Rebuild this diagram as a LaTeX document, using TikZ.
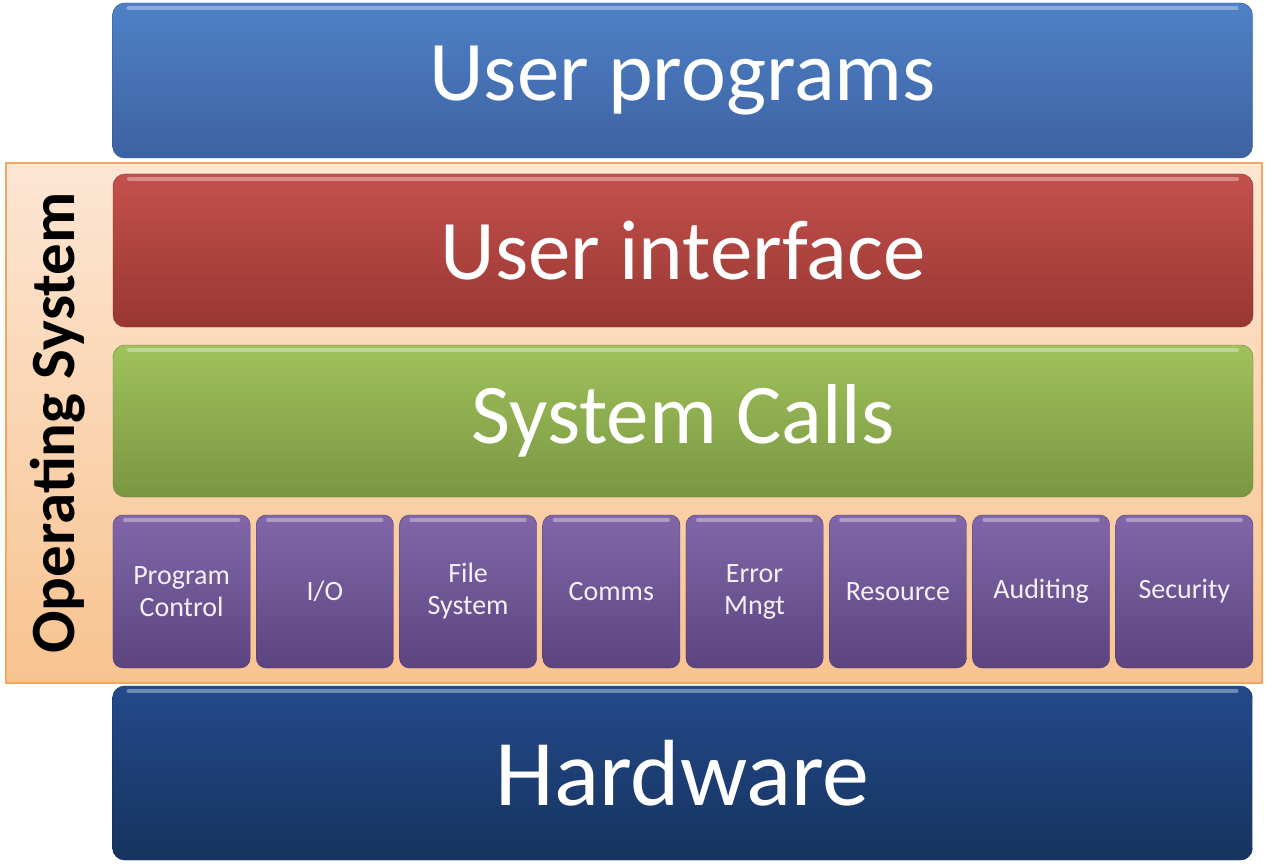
\documentclass[tikz,border=0pt]{standalone}
\usepackage{fontspec}
\setmainfont{Carlito}
\usepackage{tikz}
\usetikzlibrary{
	positioning
}
\definecolor{progtop}{HTML}{4F81C7}
\definecolor{progbot}{HTML}{3D62A2}
\definecolor{uitop}{HTML}{C4504C}
\definecolor{uibot}{HTML}{983733}
\definecolor{calltop}{HTML}{A0C25B}
\definecolor{callbot}{HTML}{7A9642}
\definecolor{servtop}{HTML}{8167A9}
\definecolor{servbot}{HTML}{5C4480}
\definecolor{hwtop}{HTML}{234A8A}
\definecolor{hwbot}{HTML}{17335F}
\definecolor{ostop}{HTML}{FCE6D4}
\definecolor{osbot}{HTML}{F8C38F}
\definecolor{osedge}{HTML}{F2A661}
\tikzset{
	gloss/.style={
		path picture={
			\draw [white,opacity=.35,line width=4pt,line cap=round]
				([xshift=#1,yshift=-5pt]path picture bounding box.north west) --
				([xshift=-#1,yshift=-5pt]path picture bounding box.north east);
		}
	},
	band/.style 2 args={
		rounded corners=12pt,
		top color=#1,
		bottom color=#2,
		draw=#2!85!black,
		gloss=16pt,
		minimum width=1140pt,
		inner sep=0pt,
		outer sep=0pt,
		text=white,
		font=\fontsize{85}{95}\selectfont
	},
	service/.style={
		rounded corners=10pt,
		top color=servtop,
		bottom color=servbot,
		draw=servbot!85!black,
		gloss=12pt,
		minimum width=137.25pt,
		minimum height=153pt,
		inner sep=0pt,
		outer sep=0pt,
		align=center,
		text=white!90!servtop,
		font=\fontsize{28}{32}\selectfont
	}
}
\begin{document}
\begin{tikzpicture}[x=1pt,y=-1pt,node distance=6pt]
	\useasboundingbox (0,0) rectangle (1270,864);
	\draw
		node [top color=ostop,bottom color=osbot,draw=osedge,line width=1.5pt,
			minimum width=1256pt,minimum height=520pt] (os) at (634,423) {}
		node [rotate=90,font=\fontsize{63}{70}\selectfont\bfseries] (oslabel) at (58,423) {Operating System}

		node [band={progtop}{progbot},minimum height=155pt] (prog) at (682.5,80.5) {User programs}
		node [band={uitop}{uibot},minimum height=153pt]     (ui)   at (683,250.5)  {User interface}
		node [band={calltop}{callbot},minimum height=152pt] (calls) at (683,421)   {System Calls}
		node [band={hwtop}{hwbot},minimum height=174pt,font=\fontsize{94}{100}\selectfont] (hw) at (682.5,773) {Hardware}

		node [service] (pc) at (181.6,591.5) {Program\\Control}
		node [service,right=of pc]  (io)   {I/O}
		node [service,right=of io]  (fs)   {File\\System}
		node [service,right=of fs]  (comm) {Comms}
		node [service,right=of comm] (err) {Error\\Mngt}
		node [service,right=of err] (res)  {Resource}
		node [service,right=of res] (aud)  {Auditing}
		node [service,right=of aud] (sec)  {Security}
	;
\end{tikzpicture}
\end{document}
